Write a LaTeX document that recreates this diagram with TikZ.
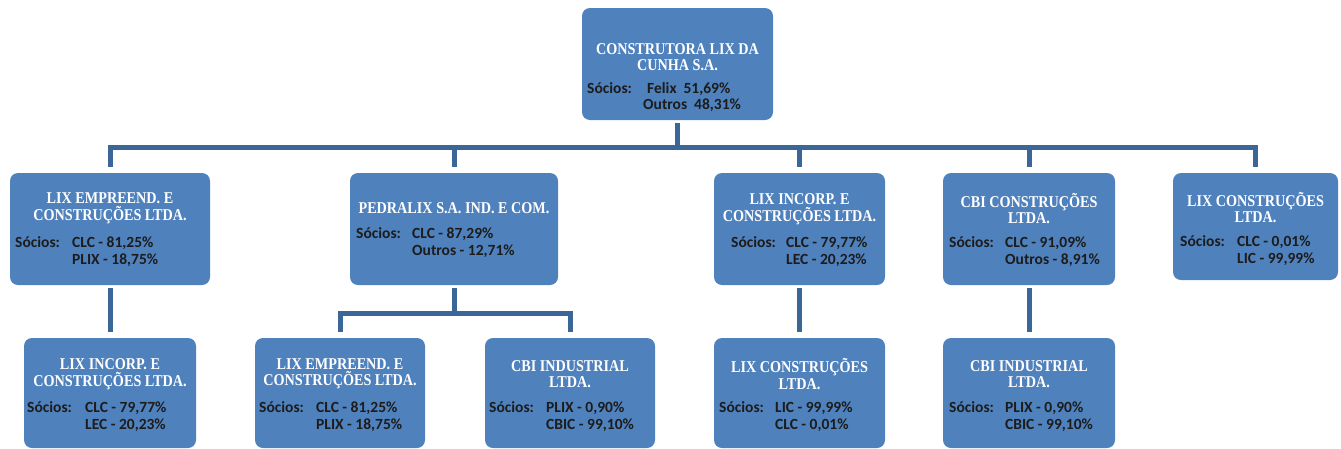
\documentclass[tikz,border=0pt]{standalone}
\usepackage{fontspec}
\setmainfont{Carlito}
\newfontfamily\titlefont[FakeStretch=0.86]{Liberation Serif}
\usetikzlibrary{calc}
\definecolor{boxblue}{HTML}{4F81BD}
\definecolor{connblue}{HTML}{3A6797}
\definecolor{bodytext}{HTML}{1C1C1C}
\begin{document}
\begin{tikzpicture}[x=1pt,y=-1pt,
  orgbox/.style={fill=boxblue, draw=none, rounded corners=8pt, inner sep=0pt},
  ttl/.style={font=\titlefont\bfseries\fontsize{16.5}{16.5}\selectfont, text=white, align=center, inner sep=0pt},
  bdy/.style={font=\bfseries\fontsize{15.5}{17}\selectfont, text=bodytext, anchor=base west, inner sep=0pt},
  conn/.style={draw=connblue, line width=5pt}]
\useasboundingbox (0,0) rectangle (1341,448);

% ---- top box
\node[orgbox, minimum width=191pt, minimum height=112pt] (T) at (677.5,64) {};
\node[ttl] (Tt) at (677.5,57) {CONSTRUTORA LIX DA\\CUNHA S.A.};
\node[bdy] (Ts) at (587,93) {Sócios:};
\node[bdy] (Tv1) at (647,93) {Felix~~51,69\%};
\node[bdy] (Tv2) at (643,109) {Outros~~48,31\%};

% ---- row 2
\node[orgbox, minimum width=200pt, minimum height=112pt] (A) at (110,229) {};
\node[ttl] (At) at (110,208.5) {LIX EMPREEND. E\\CONSTRUÇÕES LTDA.};
\node[bdy] (As) at (15,247) {Sócios:};
\node[bdy] (Av1) at (72,247) {CLC - 81,25\%};
\node[bdy] (Av2) at (72,264) {PLIX - 18,75\%};

\node[orgbox, minimum width=208pt, minimum height=112pt] (B) at (454,229) {};
\node[ttl] (Bt) at (454,208) {PEDRALIX S.A. IND. E COM.};
\node[bdy] (Bs) at (356,238) {Sócios:};
\node[bdy] (Bv1) at (412,238) {CLC - 87,29\%};
\node[bdy] (Bv2) at (412,255) {Outros - 12,71\%};

\node[orgbox, minimum width=171pt, minimum height=112pt] (C) at (799.5,229) {};
\node[ttl] (Ct) at (799.5,209) {LIX INCORP. E\\CONSTRUÇÕES LTDA.};
\node[bdy] (Cs) at (731,247) {Sócios:};
\node[bdy] (Cv1) at (786,247) {CLC - 79,77\%};
\node[bdy] (Cv2) at (786,264) {LEC - 20,23\%};

\node[orgbox, minimum width=172pt, minimum height=112pt] (D) at (1029,229) {};
\node[ttl] (Dt) at (1029,208.5) {CBI CONSTRUÇÕES\\LTDA.};
\node[bdy] (Ds) at (949,247) {Sócios:};
\node[bdy] (Dv1) at (1005,247) {CLC - 91,09\%};
\node[bdy] (Dv2) at (1005,264) {Outros - 8,91\%};

\node[orgbox, minimum width=165pt, minimum height=107pt] (E) at (1255.5,226.5) {};
\node[ttl] (Et) at (1255.5,207.5) {LIX CONSTRUÇÕES\\LTDA.};
\node[bdy] (Es) at (1180,246) {Sócios:};
\node[bdy] (Ev1) at (1237,246) {CLC - 0,01\%};
\node[bdy] (Ev2) at (1237,263) {LIC - 99,99\%};

% ---- row 3
\node[orgbox, minimum width=172pt, minimum height=110pt] (F) at (110,393) {};
\node[ttl] (Ft) at (110,374) {LIX INCORP. E\\CONSTRUÇÕES LTDA.};
\node[bdy] (Fs) at (27,412) {Sócios:};
\node[bdy] (Fv1) at (85,412) {CLC - 79,77\%};
\node[bdy] (Fv2) at (85,429) {LEC - 20,23\%};

\node[orgbox, minimum width=170pt, minimum height=110pt] (G) at (340,393) {};
\node[ttl] (Gt) at (340,374) {LIX EMPREEND. E\\CONSTRUÇÕES LTDA.};
\node[bdy] (Gs) at (259,412) {Sócios:};
\node[bdy] (Gv1) at (316,412) {CLC - 81,25\%};
\node[bdy] (Gv2) at (316,429) {PLIX - 18,75\%};

\node[orgbox, minimum width=170pt, minimum height=110pt] (H) at (570,393) {};
\node[ttl] (Ht) at (570,374) {CBI INDUSTRIAL\\LTDA.};
\node[bdy] (Hs) at (489,412) {Sócios:};
\node[bdy] (Hv1) at (546,412) {PLIX - 0,90\%};
\node[bdy] (Hv2) at (546,429) {CBIC - 99,10\%};

\node[orgbox, minimum width=171pt, minimum height=110pt] (I) at (799.5,393) {};
\node[ttl] (It) at (799.5,374) {LIX CONSTRUÇÕES\\LTDA.};
\node[bdy] (Is) at (719,412) {Sócios:};
\node[bdy] (Iv1) at (775,412) {LIC - 99,99\%};
\node[bdy] (Iv2) at (775,429) {CLC - 0,01\%};

\node[orgbox, minimum width=172pt, minimum height=110pt] (J) at (1029,393) {};
\node[ttl] (Jt) at (1029,374) {CBI INDUSTRIAL\\LTDA.};
\node[bdy] (Js) at (949,412) {Sócios:};
\node[bdy] (Jv1) at (1005,412) {PLIX - 0,90\%};
\node[bdy] (Jv2) at (1005,429) {CBIC - 99,10\%};

% ---- connectors
\coordinate (bus) at (677.5,147);
\coordinate (bus2) at (455,313);
\draw[conn] ([yshift=-3pt]T.south) -- (bus);
\draw[conn] ([yshift=6pt]A.north) -- (A.north |- bus) -- (E.north |- bus) -- ([yshift=6pt]E.north);
\draw[conn] (B.north |- bus) -- ([yshift=6pt]B.north);
\draw[conn] (C.north |- bus) -- ([yshift=6pt]C.north);
\draw[conn] (D.north |- bus) -- ([yshift=6pt]D.north);

\draw[conn] ([yshift=-3pt]A.south) -- ([yshift=6pt]F.north);
\draw[conn] ([yshift=-3pt]B.south) -- (B.south |- bus2);
\draw[conn] ([yshift=6pt]G.north) -- (G.north |- bus2) -- (H.north |- bus2) -- ([yshift=6pt]H.north);
\draw[conn] ([yshift=-3pt]C.south) -- ([yshift=6pt]I.north);
\draw[conn] ([yshift=-3pt]D.south) -- ([yshift=6pt]J.north);
\end{tikzpicture}
\end{document}
